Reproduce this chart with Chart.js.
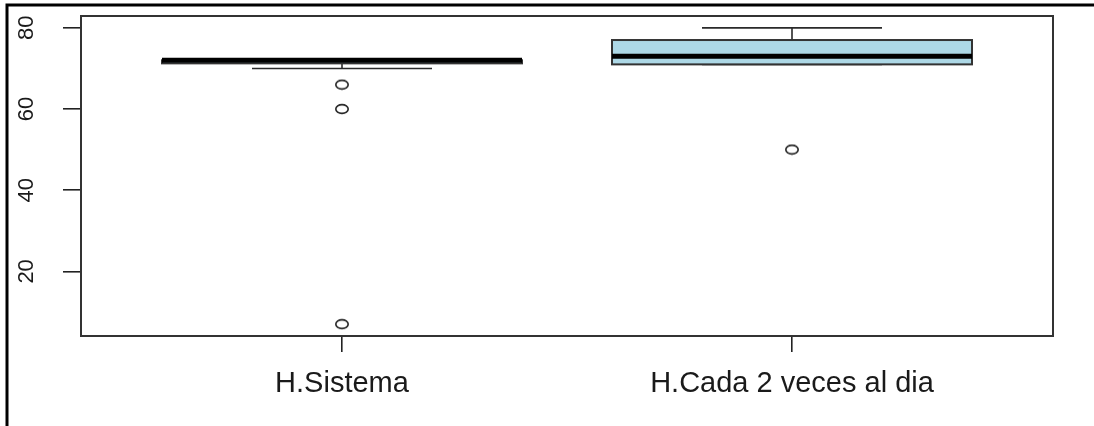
<!DOCTYPE html>
<html>
<head>
<meta charset="utf-8">
<title>Boxplot H.Sistema vs H.Cada 2 veces al dia</title>
<script src="https://cdn.jsdelivr.net/npm/chart.js@4.4.1/dist/chart.umd.min.js"></script>
<style>
  html, body { margin: 0; padding: 0; background: #fff; overflow: hidden; }
  #wrap { position: relative; width: 1094px; height: 426px; }
</style>
</head>
<body>
<div id="wrap"><canvas id="boxChart"></canvas></div>
<script>
// datos
const categories = ['H.Sistema', 'H.Cada 2 veces al dia'];
const whiskerLow = [70, 71];
const q1 = [71.25, 71];
const medians = [72, 73];
const q3 = [72, 77];
const whiskerHigh = [72, 80];
const outliers = [[66, 60, 7], [50]];
const yTicks = [20, 40, 60, 80];
const boxFill = ['#ADD8E6', '#ADD8E6'];

// puntos atipicos como dataset scatter
const outlierPoints = [];
outliers.forEach((vals, i) => {
    vals.forEach(v => outlierPoints.push({ x: i + 1, y: v }));
});

// circulo abierto (pch 1), un poco ovalado como en la imagen
function makeRing() {
    const c = document.createElement('canvas');
    c.width = 16; c.height = 12;
    const g = c.getContext('2d');
    g.strokeStyle = '#222';
    g.lineWidth = 1.6;
    g.beginPath();
    g.ellipse(8, 6, 6.2, 4.4, 0, 0, Math.PI * 2);
    g.stroke();
    return c;
}

// dibuja cajas, medianas y bigotes usando las escalas del grafico
const boxPlugin = {
    id: 'boxes',
    beforeDatasetsDraw(chart) {
        const ctx = chart.ctx;
        const xs = chart.scales.x, ys = chart.scales.y;
        ctx.save();
        categories.forEach((cat, i) => {
            const xc = xs.getPixelForValue(i + 1);
            const half = xs.getPixelForValue(i + 1.4) - xc;
            const staple = half * 0.5;
            const yQ1 = ys.getPixelForValue(q1[i]);
            const yQ3 = ys.getPixelForValue(q3[i]);
            const yMed = ys.getPixelForValue(medians[i]);
            const yLo = ys.getPixelForValue(whiskerLow[i]);
            const yHi = ys.getPixelForValue(whiskerHigh[i]);

            // bigotes
            ctx.strokeStyle = '#2a2a2a';
            ctx.lineWidth = 1.6;
            ctx.beginPath();
            ctx.moveTo(xc, yQ1); ctx.lineTo(xc, yLo);
            ctx.moveTo(xc, yQ3); ctx.lineTo(xc, yHi);
            ctx.moveTo(xc - staple, yLo); ctx.lineTo(xc + staple, yLo);
            ctx.moveTo(xc - staple, yHi); ctx.lineTo(xc + staple, yHi);
            ctx.stroke();

            // caja
            ctx.fillStyle = boxFill[i];
            ctx.fillRect(xc - half, yQ3, half * 2, yQ1 - yQ3);
            ctx.strokeStyle = '#333';
            ctx.lineWidth = 2;
            ctx.strokeRect(xc - half, yQ3, half * 2, yQ1 - yQ3);

            // mediana
            ctx.strokeStyle = '#000';
            ctx.lineWidth = 5;
            ctx.beginPath();
            ctx.moveTo(xc - half, yMed); ctx.lineTo(xc + half, yMed);
            ctx.stroke();
        });
        ctx.restore();
    },
    afterDraw(chart) {
        const ctx = chart.ctx;
        const a = chart.chartArea;
        ctx.save();
        // marco del panel
        ctx.strokeStyle = '#333';
        ctx.lineWidth = 2;
        ctx.strokeRect(a.left, a.top, a.right - a.left, a.bottom - a.top);
        // borde exterior (arriba e izquierda)
        ctx.strokeStyle = '#000';
        ctx.lineWidth = 3;
        ctx.beginPath();
        ctx.moveTo(7, 426); ctx.lineTo(7, 5); ctx.lineTo(1094, 5);
        ctx.stroke();
        ctx.restore();
    }
};

Chart.defaults.font.family = "'Liberation Sans', Arial, sans-serif";
Chart.defaults.color = '#1a1a1a';

new Chart(document.getElementById('boxChart'), {
    type: 'scatter',
    data: {
        datasets: [{
            label: 'atipicos',
            data: outlierPoints,
            pointStyle: makeRing(),
            pointRadius: 6,
            pointHoverRadius: 6
        }]
    },
    options: {
        responsive: true,
        maintainAspectRatio: false,
        animation: false,
        layout: { padding: { top: 16, right: 41, left: 0, bottom: 0 } },
        plugins: { legend: { display: false }, tooltip: { enabled: false } },
        scales: {
            x: {
                type: 'linear',
                min: 0.42,
                max: 2.58,
                afterBuildTicks: s => { s.ticks = categories.map((c, i) => ({ value: i + 1 })); },
                afterFit: s => {
                    s.height = 90;
                    s.paddingLeft = 0; s.paddingRight = 0;
                },
                grid: { drawOnChartArea: false, tickLength: 16, color: '#222', lineWidth: 1.6 },
                border: { display: false },
                ticks: {
                    padding: 15,
                    maxRotation: 0,
                    font: { size: 29 },
                    callback: v => categories[Math.round(v) - 1]
                }
            },
            y: {
                min: 4.08,
                max: 82.92,
                afterBuildTicks: s => { s.ticks = yTicks.map(v => ({ value: v })); },
                afterFit: s => {
                    s.width = 81;
                    s.paddingTop = 0; s.paddingBottom = 0;
                },
                grid: { drawOnChartArea: false, tickLength: 18, color: '#222', lineWidth: 1.6 },
                border: { display: false },
                ticks: {
                    minRotation: 90,
                    maxRotation: 90,
                    crossAlign: 'center',
                    padding: 24,
                    font: { size: 22 }
                }
            }
        }
    },
    plugins: [boxPlugin]
});
</script>
</body>
</html>
